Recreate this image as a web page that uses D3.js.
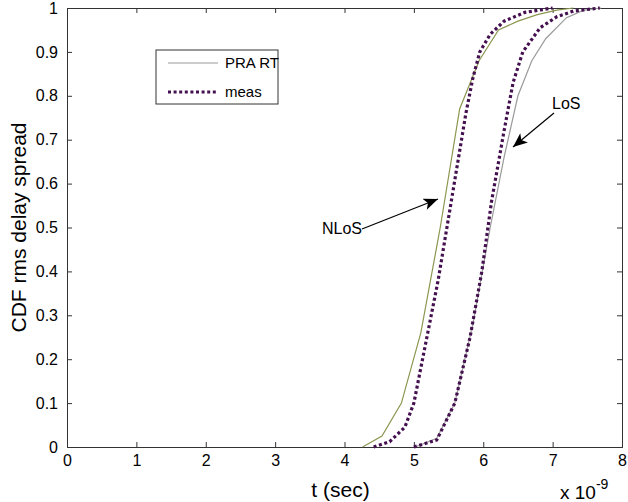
<!DOCTYPE html>
<html>
<head>
<meta charset="utf-8">
<script src="https://cdn.jsdelivr.net/npm/d3@7"></script>
<style>
  body { margin: 0; background: #fff; }
  text { font-family: "Liberation Sans", Arial, sans-serif; fill: #000; }
</style>
</head>
<body>
<div id="chart"></div>
<script>
// time axis in units of 1e-9 sec
var xTicks = [0, 1, 2, 3, 4, 5, 6, 7, 8]
var yTicks = [0, 0.1, 0.2, 0.3, 0.4, 0.5, 0.6, 0.7, 0.8, 0.9, 1]

// NLoS, ray tracing
var rtNlosT = [4.26, 4.54, 4.82, 5.1, 5.38, 5.66, 5.94, 6.22, 6.5, 6.78, 7.06, 7.3]
var rtNlosP = [0, 0.025, 0.1, 0.26, 0.5, 0.77, 0.88, 0.95, 0.97, 0.985, 0.995, 1]
// NLoS, measured
var measNlosT = [4.42, 4.65, 4.87, 5.0, 5.15, 5.35, 5.55, 5.75, 5.85, 5.95, 6.1, 6.3, 6.6, 7.0]
var measNlosP = [0, 0.012, 0.045, 0.1, 0.22, 0.38, 0.57, 0.76, 0.84, 0.9, 0.94, 0.97, 0.99, 1]
// LoS, ray tracing
var rtLosT = [5.02, 5.33, 5.59, 5.85, 6.1, 6.3, 6.5, 6.7, 6.9, 7.2, 7.45, 7.7]
var rtLosP = [0, 0.02, 0.1, 0.28, 0.5, 0.66, 0.8, 0.88, 0.93, 0.978, 0.995, 1]
// LoS, measured
var measLosT = [5.0, 5.33, 5.59, 5.81, 5.98, 6.12, 6.3, 6.43, 6.57, 6.82, 7.06, 7.3, 7.68]
var measLosP = [0, 0.016, 0.1, 0.25, 0.4, 0.56, 0.72, 0.83, 0.9, 0.955, 0.98, 0.993, 1]

var legendNames = ['PRA RT', 'meas']

var W = 628, H = 502
var margin = { left: 67, right: 6, top: 8, bottom: 55 }
var pw = W - margin.left - margin.right
var ph = H - margin.top - margin.bottom

var colRtNlos = '#8c9650'
var colRtLos = '#9a9a9a'
var colMeas = '#44104f'

var svg = d3.select('#chart').append('svg')
  .attr('width', W).attr('height', H)

var x = d3.scaleLinear().domain([0, 8]).range([margin.left, margin.left + pw])
var y = d3.scaleLinear().domain([0, 1]).range([margin.top + ph, margin.top])

// axes, MATLAB style: ticks inside on all four sides
var tk = 5
svg.append('g')
  .attr('transform', 'translate(0,' + (margin.top + ph) + ')')
  .call(d3.axisBottom(x).tickValues(xTicks).tickSize(-tk).tickPadding(tk + 3).tickFormat(d3.format('d')))
svg.append('g')
  .attr('transform', 'translate(0,' + margin.top + ')')
  .call(d3.axisTop(x).tickValues(xTicks).tickSize(-tk).tickFormat(''))
svg.append('g')
  .attr('transform', 'translate(' + margin.left + ',0)')
  .call(d3.axisLeft(y).tickValues(yTicks).tickSize(-tk).tickPadding(tk + 4).tickFormat(function (d) { return d === 0 || d === 1 ? d : d3.format('.1f')(d) }))
svg.append('g')
  .attr('transform', 'translate(' + (margin.left + pw) + ',0)')
  .call(d3.axisRight(y).tickValues(yTicks).tickSize(-tk).tickFormat(''))

svg.selectAll('.domain').attr('stroke', '#333').attr('stroke-width', 1)
svg.selectAll('.tick line').attr('stroke', '#333')
svg.selectAll('.tick text').attr('font-size', 16).attr('fill', '#000')

// curves
var line = d3.line()
  .x(function (d) { return x(d[0]) })
  .y(function (d) { return y(d[1]) })

function drawCurve (ts, ps, color, width, dash) {
  var pts = ts.map(function (t, i) { return [t, ps[i]] })
  svg.append('path')
    .datum(pts)
    .attr('d', line)
    .attr('fill', 'none')
    .attr('stroke', color)
    .attr('stroke-width', width)
    .attr('stroke-dasharray', dash)
}
drawCurve(rtNlosT, rtNlosP, colRtNlos, 1.2, null)
drawCurve(rtLosT, rtLosP, colRtLos, 1.2, null)
drawCurve(measNlosT, measNlosP, colMeas, 3.2, '3,2.6')
drawCurve(measLosT, measLosP, colMeas, 3.2, '3,2.6')

// arrows
var defs = svg.append('defs')
defs.append('marker')
  .attr('id', 'arrow')
  .attr('viewBox', '0 0 12 10')
  .attr('refX', 12).attr('refY', 5)
  .attr('markerWidth', 16).attr('markerHeight', 12)
  .attr('markerUnits', 'userSpaceOnUse')
  .attr('orient', 'auto')
  .append('path')
  .attr('d', 'M0,0 L12,5 L0,10 L3,5 Z')
  .attr('fill', '#000')

svg.append('line')
  .attr('x1', 362).attr('y1', 229).attr('x2', 438).attr('y2', 199)
  .attr('stroke', '#000').attr('stroke-width', 1.2).attr('marker-end', 'url(#arrow)')
svg.append('text').attr('x', 362).attr('y', 234).attr('text-anchor', 'end')
  .attr('font-size', 16).text('NLoS')

svg.append('line')
  .attr('x1', 554).attr('y1', 113).attr('x2', 513).attr('y2', 147)
  .attr('stroke', '#000').attr('stroke-width', 1.2).attr('marker-end', 'url(#arrow)')
svg.append('text').attr('x', 552).attr('y', 109)
  .attr('font-size', 16).text('LoS')

// legend
var lg = svg.append('g')
lg.append('rect')
  .attr('x', 156).attr('y', 50).attr('width', 122).attr('height', 54)
  .attr('fill', '#fff').attr('stroke', '#333').attr('stroke-width', 1)
var legendColors = [colRtLos, colMeas]
var legendWidths = [1.2, 3.2]
var legendDash = [null, '3,2.6']
legendNames.forEach(function (name, i) {
  var ly = 63 + i * 29
  lg.append('line')
    .attr('x1', 168).attr('x2', 218).attr('y1', ly).attr('y2', ly)
    .attr('stroke', legendColors[i]).attr('stroke-width', legendWidths[i])
    .attr('stroke-dasharray', legendDash[i])
  lg.append('text').attr('x', 225).attr('y', ly + 5)
    .attr('font-size', 15).text(name)
})

// axis labels
svg.append('text')
  .attr('x', x(4) - 4).attr('y', 497)
  .attr('text-anchor', 'middle').attr('font-size', 21).text('t (sec)')
svg.append('text')
  .attr('transform', 'translate(26,' + y(0.5) + ') rotate(-90)')
  .attr('text-anchor', 'middle').attr('font-size', 21).text('CDF rms delay spread')

var expo = svg.append('text').attr('x', 560).attr('y', 499).attr('font-size', 19)
expo.append('tspan').text('x 10')
expo.append('tspan').attr('dy', -10).attr('font-size', 14).text('-9')
</script>
</body>
</html>
